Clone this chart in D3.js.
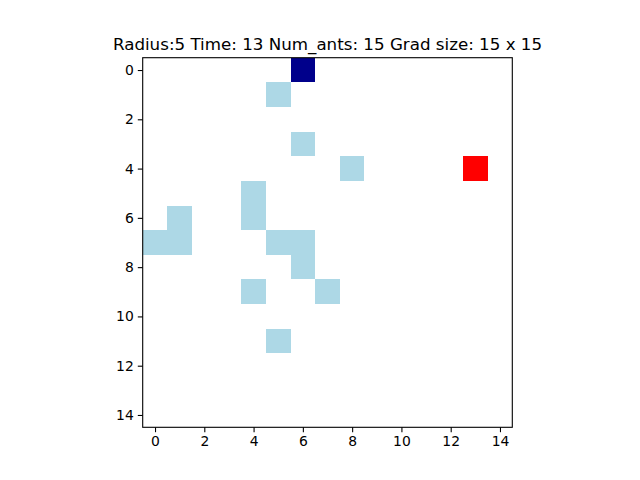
<!DOCTYPE html>
<html>
<head>
<meta charset="utf-8">
<script src="https://cdn.jsdelivr.net/npm/d3@7"></script>
<style>
  body { margin: 0; background: #fff; }
  text { font-family: "DejaVu Sans", sans-serif; }
</style>
</head>
<body>
<svg id="chart" width="640" height="480"></svg>
<script>
// grid is 15 x 15, cells given as [row, col]
var GRID_SIZE = 15
var trailCells = [[1,5],[3,6],[4,8],[5,4],[6,4],[6,1],[7,0],[7,1],[7,5],[7,6],[8,6],[9,4],[9,7],[11,5]]
var antCells = [[0,6]]
var foodCells = [[4,13]]
var tickValues = [0, 2, 4, 6, 8, 10, 12, 14]
var titleText = "Radius:5 Time: 13 Num_ants: 15 Grad size: 15 x 15"

var svg = d3.select('#chart')

var x = d3.scaleLinear().domain([-0.5, GRID_SIZE - 0.5]).range([142.7, 512.3])
var y = d3.scaleLinear().domain([-0.5, GRID_SIZE - 0.5]).range([57.7, 427.3])

var cells = []
trailCells.forEach(function(d) { cells.push({r: d[0], c: d[1], color: '#add8e6'}) })
antCells.forEach(function(d) { cells.push({r: d[0], c: d[1], color: '#00008b'}) })
foodCells.forEach(function(d) { cells.push({r: d[0], c: d[1], color: '#ff0000'}) })

svg.append('g').selectAll('rect')
    .data(cells)
    .enter()
        .append('rect')
        .attr('x', function(d) { return x(d.c - 0.5) })
        .attr('y', function(d) { return y(d.r - 0.5) })
        .attr('width', function(d) { return x(d.c + 0.5) - x(d.c - 0.5) })
        .attr('height', function(d) { return y(d.r + 0.5) - y(d.r - 0.5) })
        .attr('fill', function(d) { return d.color })
        .attr('shape-rendering', 'crispEdges')

// frame
svg.append('rect')
    .attr('x', x.range()[0]).attr('y', y.range()[0])
    .attr('width', x.range()[1] - x.range()[0])
    .attr('height', y.range()[1] - y.range()[0])
    .attr('fill', 'none').attr('stroke', '#000').attr('stroke-width', 1.1)

var xAxis = svg.append('g')
    .attr('transform', 'translate(0,' + y.range()[1] + ')')
    .call(d3.axisBottom(x).tickValues(tickValues).tickSize(4.9).tickPadding(4))
var yAxis = svg.append('g')
    .attr('transform', 'translate(' + x.range()[0] + ',0)')
    .call(d3.axisLeft(y).tickValues(tickValues).tickSize(4.9).tickPadding(4))

;[xAxis, yAxis].forEach(function(a) {
    a.select('.domain').remove()
    a.selectAll('line').attr('stroke', '#000').attr('stroke-width', 1.1)
    a.selectAll('text')
        .attr('fill', '#000')
        .style('font-family', '"DejaVu Sans", sans-serif')
        .style('font-size', '13.9px')
})

svg.append('text')
    .attr('x', (x.range()[0] + x.range()[1]) / 2)
    .attr('y', 49.5)
    .attr('text-anchor', 'middle')
    .style('font-size', '16.7px')
    .text(titleText)
</script>
</body>
</html>
